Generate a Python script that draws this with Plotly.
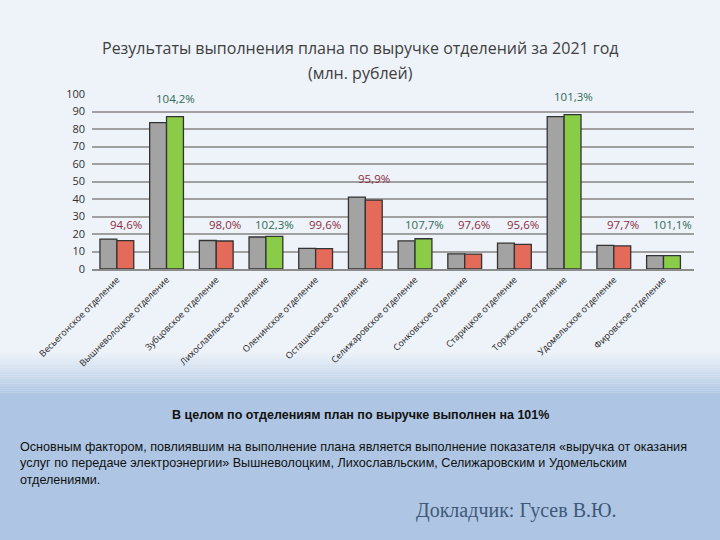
import plotly.graph_objects as go

categories = [
    "Весьегонское отделение", "Вышневолоцкое отделение", "Зубцовское отделение",
    "Лихославльское отделение", "Оленинское отделение", "Осташковское отделение",
    "Селижаровское отделение", "Сонковское отделение", "Старицкое отделение",
    "Торжокское отделение", "Удомельское отделение", "Фировское отделение",
]
plan = [17.1, 83.6, 16.3, 18.3, 11.8, 41.1, 16.1, 8.7, 14.8, 87.1, 13.5, 7.6]
fact = [16.2, 87.1, 16.0, 18.7, 11.7, 39.4, 17.3, 8.5, 14.1, 88.2, 13.2, 7.7]
pct_labels = ["94,6%", "104,2%", "98,0%", "102,3%", "99,6%", "95,9%",
              "107,7%", "97,6%", "95,6%", "101,3%", "97,7%", "101,1%"]
y_ticks = [0, 10, 20, 30, 40, 50, 60, 70, 80, 90, 100]

title_lines = ["Результаты выполнения плана по выручке отделений за 2021 год", "(млн. рублей)"]
summary_text = "В целом по отделениям план по выручке выполнен на 101%"
body_lines = [
    "Основным фактором, повлиявшим на выполнение плана является выполнение показателя «выручка от оказания",
    "услуг по передаче электроэнергии» Вышневолоцким, Лихославльским, Селижаровским и Удомельским",
    "отделениями.",
]
speaker_text = "Докладчик: Гусев В.Ю."

W, H = 720, 540
L, R, T, B = 92, 26, 94, 271
PH = H - T - B
PW = W - L - R


def py(Y):
    return (H - B - Y) / PH


def px(X):
    return (X - L) / PW


GREEN = "#8acc48"
RED = "#e46a5a"
GRAY = "#a3a3a3"
fact_colors = [GREEN if f >= p else RED for p, f in zip(plan, fact)]
label_colors = ["#2f6b55" if f >= p else "#8b2d42" for p, f in zip(plan, fact)]

fig = go.Figure()
fig.add_trace(go.Bar(x=categories, y=plan, name="План",
                     marker=dict(color=GRAY, line=dict(color="#333333", width=1.3))))
fig.add_trace(go.Bar(x=categories, y=fact, name="Факт",
                     marker=dict(color=fact_colors, line=dict(color="#333333", width=1.3))))

annotations = []
for c, p, f, t, col in zip(categories, plan, fact, pct_labels, label_colors):
    top = max(p, f)
    ly = top + 5 if top > 25 else 20
    annotations.append(dict(x=c, y=ly, xref="x", yref="y", text=t,
                            showarrow=False, xshift=9, yanchor="bottom",
                            font=dict(family="Open Sans", size=11.5, color=col)))

for i, line in enumerate(title_lines):
    annotations.append(dict(x=px(360), xref="paper", y=py(48 + 25 * i), yref="paper", text=line,
                            showarrow=False, xanchor="center", yanchor="middle",
                            font=dict(family="Open Sans", size=16, color="#404040")))
annotations.append(dict(x=px(360), xref="paper", y=py(415), yref="paper", text="<b>" + summary_text + "</b>",
                        showarrow=False, xanchor="center", yanchor="middle",
                        font=dict(family="Liberation Sans Narrow, Liberation Sans", size=12.5, color="#111111")))
annotations.append(dict(x=px(18), xref="paper", y=py(463), yref="paper", text="<br>".join(body_lines),
                        showarrow=False, xanchor="left", yanchor="middle", align="left",
                        font=dict(family="Liberation Sans Narrow, Liberation Sans", size=12.6, color="#111111")))
annotations.append(dict(x=px(516), xref="paper", y=py(511), yref="paper", text=speaker_text,
                        showarrow=False, xanchor="center", yanchor="middle",
                        font=dict(family="Liberation Serif", size=20, color="#3f5878")))

# background gradient
shapes = []
top_c = (238, 243, 249)
bot_c = (174, 198, 227)
g0, g1 = 352, 394
n = 24
for i in range(n):
    y0 = g0 + (g1 - g0) * i / n
    y1 = g0 + (g1 - g0) * (i + 1) / n
    t = (i + 0.5) / n
    c = tuple(int(round(a + (b - a) * t)) for a, b in zip(top_c, bot_c))
    shapes.append(dict(type="rect", xref="paper", yref="paper", x0=px(0), x1=px(W),
                       y0=py(y1), y1=py(y0), fillcolor="rgb(%d,%d,%d)" % c,
                       line=dict(width=0), layer="below"))
shapes.append(dict(type="rect", xref="paper", yref="paper", x0=px(0), x1=px(W),
                   y0=py(H), y1=py(g1), fillcolor="rgb(%d,%d,%d)" % bot_c,
                   line=dict(width=0), layer="below"))

fig.update_layout(
    width=W, height=H,
    margin=dict(l=L, r=R, t=T, b=B),
    paper_bgcolor="rgb(%d,%d,%d)" % top_c,
    plot_bgcolor="rgba(0,0,0,0)",
    barmode="group", bargap=0.32, bargroupgap=0,
    showlegend=False,
    annotations=annotations,
    shapes=shapes,
    xaxis=dict(tickangle=-45, tickfont=dict(family="Open Sans", size=9, color="#202020"),
               showline=True, linecolor="#8c8c8c", linewidth=2, ticks="", showgrid=False),
    yaxis=dict(range=[0, 100], tickvals=y_ticks, showgrid=True, gridcolor="#a0a0a0", gridwidth=2,
               zeroline=False, ticks="", tickfont=dict(family="Open Sans", size=11, color="#303030"),
               ticklabelstandoff=6),
)

fig.write_html("out.html")
